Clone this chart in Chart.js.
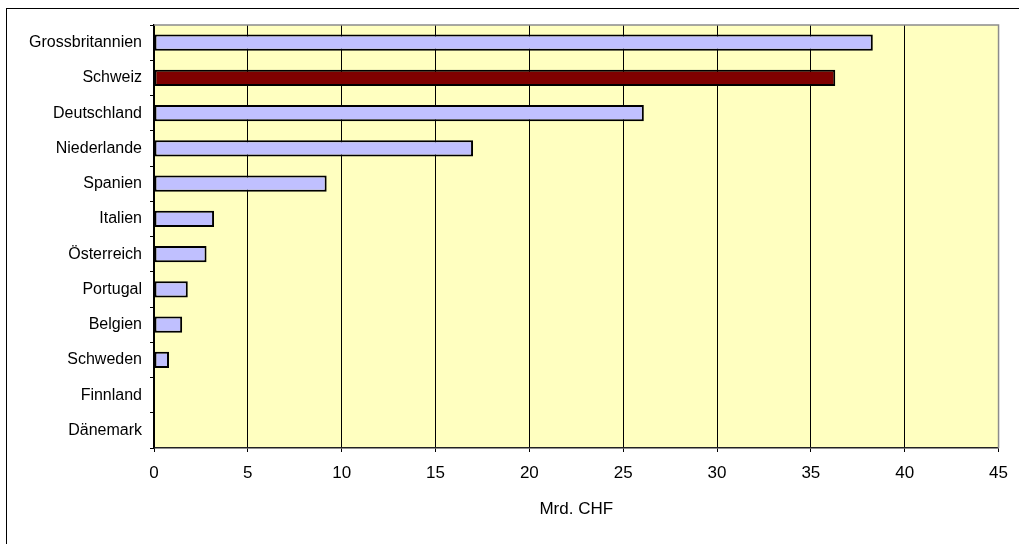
<!DOCTYPE html>
<html>
<head>
<meta charset="utf-8">
<style>
  html, body { margin: 0; padding: 0; background: #ffffff; }
  #wrap { width: 1019px; height: 544px; position: relative; }
</style>
<script src="https://cdn.jsdelivr.net/npm/chart.js@4/dist/chart.umd.min.js"></script>
</head>
<body>
<div id="wrap"><canvas id="c" width="1019" height="544"></canvas></div>
<script>
// Financial centres, volume in billions of CHF
const countries = ['Grossbritannien', 'Schweiz', 'Deutschland', 'Niederlande', 'Spanien', 'Italien',
                   'Österreich', 'Portugal', 'Belgien', 'Schweden', 'Finnland', 'Dänemark'];
const volumes = [38.3, 36.3, 26.1, 17.0, 9.2, 3.2, 2.8, 1.8, 1.5, 0.8, 0, 0];
const axisTicks = [0, 5, 10, 15, 20, 25, 30, 35, 40, 45];
const axisTitle = 'Mrd. CHF';
const highlighted = 'Schweiz';

const FONT = "'Liberation Sans', Arial, sans-serif";

// Pale plot background plus the outer frame around the whole figure
const framePlugin = {
  id: 'frame',
  beforeDraw(chart) {
    const { ctx, chartArea: a } = chart;
    ctx.save();
    ctx.fillStyle = '#FFFFC0';
    ctx.fillRect(a.left, a.top, a.right - a.left, a.bottom - a.top);
    ctx.strokeStyle = '#000000';
    ctx.lineWidth = 1;
    ctx.strokeRect(6.5, 8.5, 1100, 1000);
    ctx.restore();
  },
  afterDatasetsDraw(chart) {
    const { ctx, chartArea: a } = chart;
    ctx.save();
    ctx.strokeStyle = '#8c8c8c';
    ctx.lineWidth = 1.5;
    ctx.beginPath();
    ctx.moveTo(a.left, a.top);
    ctx.lineTo(a.right, a.top);
    ctx.lineTo(a.right, a.bottom);
    ctx.stroke();
    ctx.restore();
  }
};

new Chart(document.getElementById('c'), {
  type: 'bar',
  data: {
    labels: countries,
    datasets: [{
      data: volumes,
      backgroundColor: ctx => countries[ctx.dataIndex] === highlighted ? '#800000' : '#C0C0FF',
      borderColor: '#000000',
      borderWidth: 2,
      borderSkipped: false,
      categoryPercentage: 1,
      barPercentage: 0.46
    }]
  },
  options: {
    indexAxis: 'y',
    responsive: false,
    animation: false,
    devicePixelRatio: 1,
    layout: { padding: { left: 0, top: 25, right: 19, bottom: 20 } },
    plugins: { legend: { display: false }, tooltip: { enabled: false } },
    scales: {
      x: {
        type: 'linear',
        min: 0,
        max: 45,
        afterBuildTicks: scale => { scale.ticks = axisTicks.map(v => ({ value: v })); },
        afterFit: scale => { scale.height = 76; },
        grid: {
          color: ctx => (ctx.tick && ctx.tick.value === 45) ? '#8c8c8c' : '#000000',
          tickColor: '#000000',
          lineWidth: 1,
          tickLength: 4
        },
        border: { display: true, color: '#222222', width: 1.5 },
        ticks: {
          color: '#000000',
          font: { family: FONT, size: 17 },
          padding: 11,
          maxRotation: 0
        },
        title: {
          display: true,
          text: axisTitle,
          color: '#000000',
          font: { family: FONT, size: 17 },
          padding: { top: 4, bottom: 4 }
        }
      },
      y: {
        afterFit: scale => { scale.width = 154; },
        grid: {
          drawOnChartArea: false,
          drawTicks: true,
          tickLength: 4,
          tickColor: '#000000',
          offset: true
        },
        border: { display: true, color: '#000000', width: 1.5 },
        ticks: {
          color: '#000000',
          font: { family: FONT, size: 16 },
          padding: 8,
          autoSkip: false
        }
      }
    }
  },
  plugins: [framePlugin]
});
</script>
</body>
</html>
